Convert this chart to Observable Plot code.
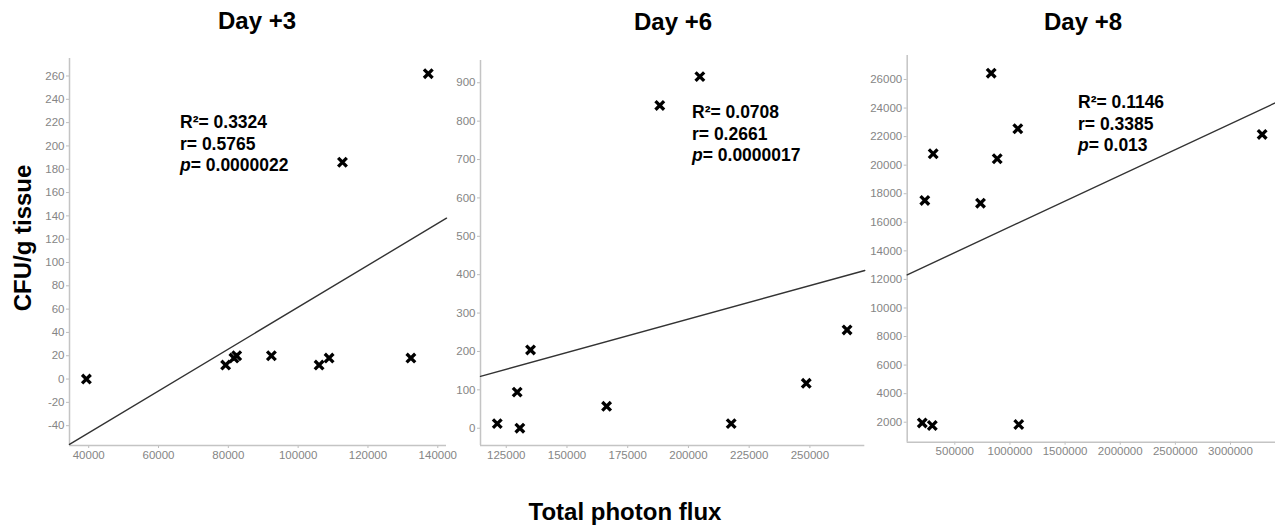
<!DOCTYPE html>
<html>
<head>
<meta charset="utf-8">
<script src="https://cdn.jsdelivr.net/npm/d3@7"></script>
<script src="https://cdn.jsdelivr.net/npm/@observablehq/plot@0.6"></script>
<style>
  html, body { margin: 0; padding: 0; background: #fff; }
  #root { position: relative; width: 1275px; height: 532px; overflow: hidden; font-family: "Liberation Sans", Arial, sans-serif; }
  .panel { position: absolute; top: 0; }
  .panel svg { overflow: visible; }
  .title { position: absolute; font-weight: bold; font-size: 24px; line-height: 24px; transform: translateX(-50%); white-space: nowrap; color: #000; }
  .ann { position: absolute; font-weight: bold; font-size: 17.5px; line-height: 21.7px; white-space: nowrap; color: #000; }
  .ylab { position: absolute; font-weight: bold; font-size: 24px; white-space: nowrap; transform: translate(-50%, -50%) rotate(-90deg); }
  .xlab { position: absolute; font-weight: bold; font-size: 24px; white-space: nowrap; transform: translate(-50%, -50%); }
</style>
</head>
<body>
<div id="root"></div>
<script>
// ---- Data ----
const titles = ["Day +3", "Day +6", "Day +8"];

const day3X = [39340, 79230, 81600, 82400, 92340, 106000, 108870, 132300, 112700, 137280];
const day3Y = [0, 12, 18, 20, 20, 12, 18, 18, 186, 262];
const fit3X = [34500, 142500];
const fit3Y = [-56, 138];
const xTicks3 = [40000, 60000, 80000, 100000, 120000, 140000];
const yTicks3 = [-40, -20, 0, 20, 40, 60, 80, 100, 120, 140, 160, 180, 200, 220, 240, 260];

const day6X = [121300, 129500, 130600, 135000, 166300, 188200, 204700, 217600, 248500, 265300];
const day6Y = [12, 94, 0, 204, 57, 841, 916, 12, 117, 256];
const fit6X = [114400, 272600];
const fit6Y = [135, 411];
const xTicks6 = [125000, 150000, 175000, 200000, 225000, 250000];
const yTicks6 = [0, 100, 200, 300, 400, 500, 600, 700, 800, 900];

const day8X = [830000, 1071300, 304000, 884500, 228000, 733000, 205000, 296000, 1080000, 3287000];
const day8Y = [26440, 22550, 20800, 20450, 17530, 17340, 1950, 1770, 1840, 22150];
const fit8X = [68300, 3408000];
const fit8Y = [12320, 24370];
const xTicks8 = [500000, 1000000, 1500000, 2000000, 2500000, 3000000];
const yTicks8 = [2000, 4000, 6000, 8000, 10000, 12000, 14000, 16000, 18000, 20000, 22000, 24000, 26000];

const stats = [
  ["0.3324", "0.5765", "0.0000022"],
  ["0.0708", "0.2661", "0.0000017"],
  ["0.1146", "0.3385", "0.013"]
];

const yLabel = "CFU/g tissue";
const xLabel = "Total photon flux";

// ---- Layout ----
const panels = [
  {xs: day3X, ys: day3Y, fx: fit3X, fy: fit3Y, xd: [34500, 142500], yd: [-57, 275], xt: xTicks3, yt: yTicks3,
   left: 0, width: 460, height: 470, mt: 58, mb: 25, ml: 69, mr: 14, title: [257, 9], ann: [180, 112]},
  {xs: day6X, ys: day6Y, fx: fit6X, fy: fit6Y, xd: [114400, 272600], yd: [-45, 958], xt: xTicks6, yt: yTicks6,
   left: 440, width: 440, height: 470, mt: 60, mb: 25, ml: 40, mr: 15.7, title: [673, 10], ann: [692, 102]},
  {xs: day8X, ys: day8Y, fx: fit8X, fy: fit8Y, xd: [68300, 3408000], yd: [600, 27680], xt: xTicks8, yt: yTicks8,
   left: 860, width: 415, height: 470, mt: 55, mb: 28.3, ml: 46.7, mr: 0, title: [1083, 10], ann: [1078, 92]}
];

const root = document.getElementById("root");
const fmt = d => String(d);

panels.forEach((p, i) => {
  const pts = p.xs.map((x, j) => ({x, y: p.ys[j]}));
  const fit = p.fx.map((x, j) => ({x, y: p.fy[j]}));
  const chart = Plot.plot({
    width: p.width,
    height: p.height,
    marginTop: p.mt, marginBottom: p.mb, marginLeft: p.ml, marginRight: p.mr,
    style: {background: "transparent", color: "#8a8a8a", fontSize: "11.5px", fontFamily: "Liberation Sans, Arial, sans-serif"},
    x: {domain: p.xd},
    y: {domain: p.yd},
    marks: [
      Plot.axisX({ticks: p.xt, tickFormat: fmt, tickSize: 3, tickPadding: 2, label: null, stroke: "#bdbdbd", fill: "#858585", fontSize: 11.5}),
      Plot.axisY({ticks: p.yt, tickFormat: fmt, tickSize: 3, tickPadding: 2, label: null, stroke: "#bdbdbd", fill: "#858585", fontSize: 11.5}),
      Plot.ruleX([p.xd[0]], {stroke: "#c4c4c4", strokeWidth: 1.5}),
      Plot.ruleY([p.yd[0]], {stroke: "#c4c4c4", strokeWidth: 1.5}),
      Plot.line(fit, {x: "x", y: "y", stroke: "#333", strokeWidth: 1.4}),
      Plot.dot(pts, {x: "x", y: "y", symbol: "times", r: 4, stroke: "#000", strokeWidth: 3.3})
    ]
  });
  const wrap = document.createElement("div");
  wrap.className = "panel";
  wrap.style.left = p.left + "px";
  wrap.appendChild(chart);
  root.appendChild(wrap);

  const t = document.createElement("div");
  t.className = "title";
  t.style.left = p.title[0] + "px";
  t.style.top = p.title[1] + "px";
  t.textContent = titles[i];
  root.appendChild(t);

  const a = document.createElement("div");
  a.className = "ann";
  a.style.left = p.ann[0] + "px";
  a.style.top = p.ann[1] + "px";
  a.innerHTML = "R\u00B2= " + stats[i][0] + "<br>r= " + stats[i][1] + "<br><i>p</i>= " + stats[i][2];
  root.appendChild(a);
});

const yl = document.createElement("div");
yl.className = "ylab";
yl.style.left = "23px";
yl.style.top = "238px";
yl.textContent = yLabel;
root.appendChild(yl);

const xl = document.createElement("div");
xl.className = "xlab";
xl.style.left = "625px";
xl.style.top = "512px";
xl.textContent = xLabel;
root.appendChild(xl);
</script>
</body>
</html>
